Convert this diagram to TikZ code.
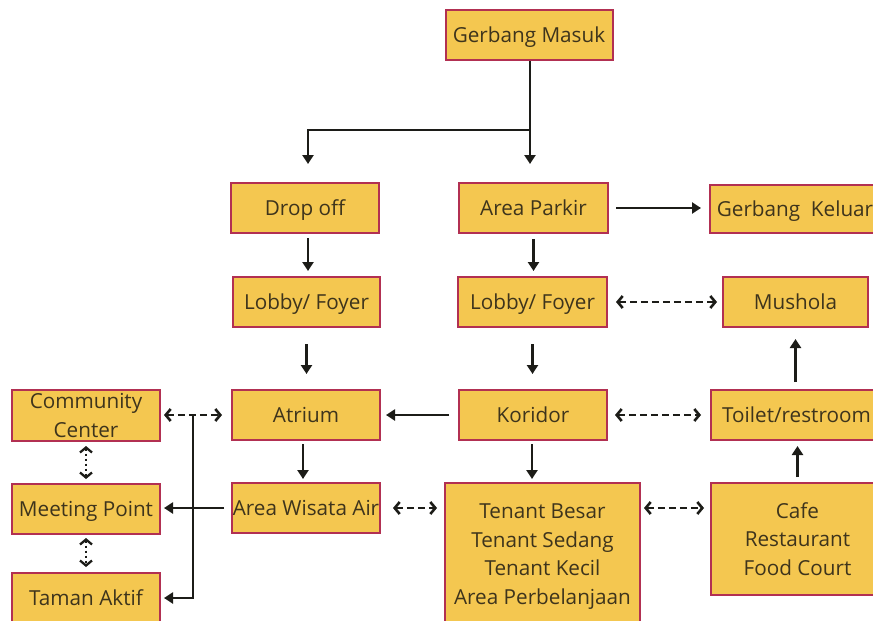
\documentclass[tikz,border=0pt]{standalone}
\usepackage{fontspec}
\setmainfont{Open Sans}
\usetikzlibrary{arrows.meta}
\definecolor{boxfill}{RGB}{244,199,80}
\definecolor{boxline}{RGB}{178,48,82}
\definecolor{txt}{RGB}{62,52,28}
\definecolor{arrc}{RGB}{28,28,24}
\tikzset{
  box/.style={draw=boxline, line width=2pt, fill=boxfill, text=txt, inner sep=0pt,
    align=center, font=\fontsize{20.7}{28.5}\selectfont, text depth=0pt},
  arr/.style={draw=arrc, line width=2.4pt, -{Triangle[length=9pt,width=11pt]}},
  darr/.style={draw=arrc, line width=2.6pt, dash pattern=on 7pt off 4pt,
    {Straight Barb[length=5pt,width=12pt]}-{Straight Barb[length=5pt,width=12pt]}},
  dotarr/.style={draw=arrc, line width=2.3pt, dash pattern=on 2pt off 3pt,
    {Straight Barb[length=5pt,width=12pt]}-{Straight Barb[length=5pt,width=12pt]}},
  plain/.style={draw=arrc, line width=2.4pt},
}
\begin{document}
\begin{tikzpicture}[x=1pt,y=-1pt]
\useasboundingbox (0,0) rectangle (873,621);
\clip (0,0) rectangle (873,621);
\fill[white] (0,0) rectangle (873,621);

\node[box, minimum width=167pt, minimum height=50pt] (gm) at (529,35) {Gerbang Masuk};
\node[box, minimum width=148pt, minimum height=50pt] (drop) at (305,208) {Drop off};
\node[box, minimum width=149pt, minimum height=50pt] (parkir) at (533.5,208) {Area Parkir};
\node[box, minimum width=170pt, minimum height=48pt] (keluar) at (795,209) {Gerbang\ \ Keluar};
\node[box, minimum width=147pt, minimum height=50pt] (lobL) at (306.5,302) {Lobby/ Foyer};
\node[box, minimum width=149pt, minimum height=50pt] (lobR) at (532.5,302) {Lobby/ Foyer};
\node[box, minimum width=145pt, minimum height=50pt] (mushola) at (795.5,302) {Mushola};
\node[box, minimum width=148pt, minimum height=51pt] (cc) at (86,415.5) {Community\\Center};
\node[box, minimum width=148pt, minimum height=50pt] (atrium) at (306,415) {Atrium};
\node[box, minimum width=148pt, minimum height=50pt] (koridor) at (533,415) {Koridor};
\node[box, minimum width=171pt, minimum height=50pt] (toilet) at (796.5,415) {Toilet/restroom};
\node[box, minimum width=148pt, minimum height=50pt] (mp) at (86,509) {Meeting Point};
\node[box, minimum width=148pt, minimum height=50pt] (wisata) at (306,508) {Area Wisata Air};
\node[box, minimum width=148pt, minimum height=50pt] (taman) at (86,598) {Taman Aktif};
\node[box, minimum width=195pt, minimum height=142pt] (tenant) at (542.5,554) {Tenant Besar\\Tenant Sedang\\Tenant Kecil\\Area Perbelanjaan};
\node[box, minimum width=173pt, minimum height=112pt] (cafe) at (797.5,539) {Cafe\\Restaurant\\Food Court};

% entrance branching
\coordinate (br) at (530,130);
\coordinate (jv) at (193,414);
\draw[plain] (gm.south -| br) -- (br);
\draw[arr, shorten >=18pt] (br) -- (br |- parkir.north);
\draw[arr, shorten >=18pt] (br) -| ([xshift=3pt]drop.north);

\draw[arr, shorten <=4pt, shorten >=5pt] ([xshift=3pt]drop.south) -- ([xshift=1.5pt]lobL.north);
\draw[arr, shorten <=5pt, shorten >=5pt] (parkir.south) -- (parkir.south |- lobR.north);
\draw[arr, shorten <=7pt, shorten >=8pt] (parkir.east) -- (keluar.west |- parkir.east);
\draw[darr, shorten <=8pt, shorten >=5pt] (lobR.east) -- (mushola.west);
\draw[arr, shorten <=16pt, shorten >=15pt] (lobL.south) -- (lobL.south |- atrium.north);
\draw[arr, shorten <=16pt, shorten >=15pt] (lobR.south) -- (lobR.south |- koridor.north);
\draw[arr, shorten <=9pt, shorten >=5pt] (koridor.west) -- (atrium.east);
\draw[darr, shorten <=7pt, shorten >=9pt] (koridor.east) -- (toilet.west);
\draw[arr, shorten <=7pt, shorten >=11pt] (toilet.north -| mushola.south) -- (mushola.south);
\draw[arr, shorten <=5pt, shorten >=5pt] (cafe.north) -- (cafe.north |- toilet.south);
\draw[arr, shorten <=3pt, shorten >=3pt] ([xshift=-1pt]koridor.south) -- ([xshift=-1pt]koridor.south |- tenant.north);
\draw[arr, shorten <=3pt, shorten >=3pt] ([xshift=-3pt]atrium.south) -- ([xshift=-3pt]wisata.north);
\draw[darr, shorten <=3pt, shorten >=9pt] (cc.east |- atrium.west) -- (atrium.west);
\draw[arr, shorten >=3pt] (jv) |- (taman.east);
\draw[arr, shorten <=7pt, shorten >=3pt] (wisata.west) -- (mp.east |- wisata.west);
\draw[dotarr, shorten <=4pt, shorten >=4pt] (cc.south) -- (mp.north);
\draw[dotarr, shorten <=3pt, shorten >=5pt] (mp.south) -- (taman.north);
\draw[darr, shorten <=12pt, shorten >=7pt] (wisata.east) -- (tenant.west |- wisata.east);
\draw[darr, shorten <=3pt, shorten >=6pt] (tenant.east |- wisata.east) -- (cafe.west |- wisata.east);
\end{tikzpicture}
\end{document}
